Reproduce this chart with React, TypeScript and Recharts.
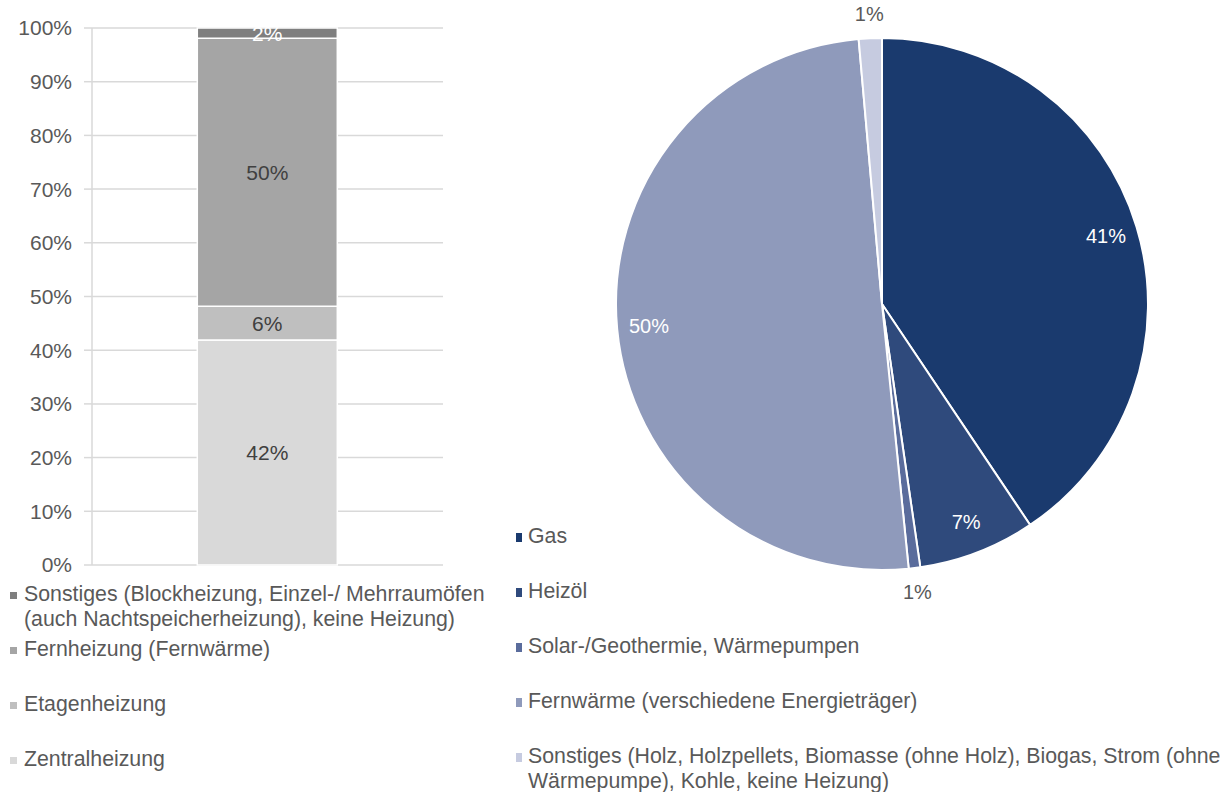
import { Bar, BarChart, CartesianGrid, Cell, LabelList, Pie, PieChart, XAxis, YAxis } from "recharts";

const FONT = "'Liberation Sans', Arial, sans-serif";
const TEXT = "#595959";

// linkes Diagramm: Heizungsart (gestapelte Säule)
const barCategories = [""];
const zentralheizung = [41.9];
const etagenheizung = [6.3];
const fernheizung = [49.9];
const sonstigesHeizung = [1.9];
const yTicks = [0, 10, 20, 30, 40, 50, 60, 70, 80, 90, 100];

const barSeries = [
  { key: "zentral", name: "Zentralheizung", color: "#D9D9D9", label: "#404040" },
  { key: "etagen", name: "Etagenheizung", color: "#BFBFBF", label: "#404040" },
  { key: "fern", name: "Fernheizung (Fernwärme)", color: "#A5A5A5", label: "#404040" },
  {
    key: "sonst",
    name: "Sonstiges (Blockheizung, Einzel-/ Mehrraumöfen (auch Nachtspeicherheizung), keine Heizung)",
    color: "#7F7F7F",
    label: "#FFFFFF"
  }
];

// rechtes Diagramm: Energieträger
const pieNames = [
  "Gas",
  "Heizöl",
  "Solar-/Geothermie, Wärmepumpen",
  "Fernwärme (verschiedene Energieträger)",
  "Sonstiges (Holz, Holzpellets, Biomasse (ohne Holz), Biogas, Strom (ohne Wärmepumpe), Kohle, keine Heizung)"
];
const pieValues = [40.6, 7.1, 0.7, 50.2, 1.4];
const pieColors = ["#1A3A6E", "#2F4A7C", "#5A6C9C", "#8F9ABB", "#C6CBE0"];

const barData = barCategories.map((cat, i) => ({
  cat,
  zentral: zentralheizung[i],
  etagen: etagenheizung[i],
  fern: fernheizung[i],
  sonst: sonstigesHeizung[i]
}));

const pieData = pieNames.map((name, i) => ({ name, value: pieValues[i] }));

const pct = (v: any) => `${Math.round(Number(v))}%`;

function LegendList({ items, markerW, markerH, markerGap }: { items: { name: string; color: string }[]; markerW: number; markerH: number; markerGap: number }) {
  return (
    <div style={{ fontFamily: FONT, fontSize: 21.3, color: TEXT }}>
      {items.map((it) => (
        <div key={it.name} style={{ display: "flex", minHeight: 55, lineHeight: "25px" }}>
          <span
            style={{
              display: "inline-block",
              width: markerW,
              height: markerH,
              background: it.color,
              marginTop: 13 - markerH / 2,
              marginRight: markerGap,
              flexShrink: 0
            }}
          />
          <span>{it.name}</span>
        </div>
      ))}
    </div>
  );
}

const RAD = Math.PI / 180;

function renderPieLabel(props: any) {
  const { cx, cy, midAngle, outerRadius, value } = props;
  const small = value < 3;
  const r = small ? outerRadius + 24 : outerRadius * 0.88;
  const x = cx + r * Math.cos(-midAngle * RAD);
  const y = cy + r * Math.sin(-midAngle * RAD);
  return (
    <text x={x} y={y} fill={small ? TEXT : "#FFFFFF"} fontSize={20} fontFamily={FONT} textAnchor="middle" dominantBaseline="central">
      {pct(value)}
    </text>
  );
}

export default function App() {
  const barLegend = [...barSeries].reverse().map((s) => ({ name: s.name, color: s.color }));
  const pieLegend = pieNames.map((name, i) => ({ name, color: pieColors[i] }));

  return (
    <div style={{ position: "absolute", left: 0, top: 0, width: 1229, height: 792, background: "#fff", overflow: "hidden" }}>
      <div style={{ position: "absolute", left: 0, top: 0 }}>
        <BarChart width={470} height={600} data={barData} margin={{ top: 28, right: 27, bottom: 35, left: 0 }} barCategoryGap="30%">
          <CartesianGrid vertical={false} stroke="#D9D9D9" strokeWidth={1.5} />
          <XAxis dataKey="cat" hide />
          <YAxis
            domain={[0, 100]}
            ticks={yTicks}
            interval={0}
            tickFormatter={(v) => `${v}%`}
            width={92}
            tickSize={8}
            tickMargin={12}
            tick={{ fill: TEXT, fontSize: 21, fontFamily: FONT }}
            tickLine={{ stroke: "#D9D9D9", strokeWidth: 1.5 }}
            axisLine={{ stroke: "#D9D9D9", strokeWidth: 1.5 }}
          />
          {barSeries.map((s) => (
            <Bar key={s.key} dataKey={s.key} name={s.name} stackId="a" fill={s.color} stroke="#FFFFFF" strokeWidth={1.5} isAnimationActive={false}>
              <LabelList dataKey={s.key} position="center" formatter={pct} fill={s.label} fontSize={21} fontFamily={FONT} />
            </Bar>
          ))}
        </BarChart>
      </div>
      <div style={{ position: "absolute", left: 10, top: 582, width: 490 }}>
        <LegendList items={barLegend} markerW={7} markerH={7} markerGap={7} />
      </div>
      <div style={{ position: "absolute", left: 500, top: 0 }}>
        <PieChart width={729} height={792} margin={{ top: 0, right: 0, bottom: 0, left: 0 }}>
          <Pie
            data={pieData}
            dataKey="value"
            nameKey="name"
            cx={382}
            cy={304}
            outerRadius={266}
            startAngle={90}
            endAngle={-270}
            stroke="#FFFFFF"
            strokeWidth={2}
            label={renderPieLabel}
            labelLine={false}
            isAnimationActive={false}
          >
            {pieData.map((d, i) => (
              <Cell key={d.name} fill={pieColors[i]} />
            ))}
          </Pie>
        </PieChart>
      </div>
      <div style={{ position: "absolute", left: 516, top: 524, width: 713 }}>
        <LegendList items={pieLegend} markerW={6} markerH={9} markerGap={6} />
      </div>
    </div>
  );
}
